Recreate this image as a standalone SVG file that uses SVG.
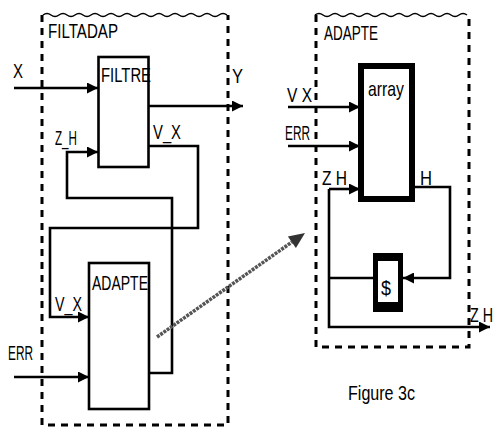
<svg xmlns="http://www.w3.org/2000/svg" width="499" height="431" viewBox="0 0 499 431">
<defs>
<marker id="ah" viewBox="0 0 10 10" refX="10" refY="5" markerWidth="11" markerHeight="11" markerUnits="userSpaceOnUse" orient="auto">
<path d="M0,0 L10,5 L0,10 z" fill="#000"/>
</marker>
</defs>
<style>
.t{font-family:"Liberation Sans",Arial,sans-serif;font-size:21px;fill:#000}
.w{fill:none;stroke:#000;stroke-width:2.6}
.dash{fill:none;stroke:#000;stroke-width:3;stroke-dasharray:7 6}
.wave{fill:none;stroke:#000;stroke-width:1.5}
.box{fill:#fff;stroke:#000;stroke-width:2.6}
</style>
<rect width="499" height="431" fill="#fff"/>

<g id="filtadap-frame">
<path class="wave" d="M43 15 q4 -3 8 0 t8 0 t8 0 t8 0 t8 0 t8 0 t8 0 t8 0 t8 0 t8 0 t8 0 t8 0 t8 0 t8 0 t8 0 t8 0 t8 0 t8 0 t8 0 t8 0 t8 0 t8 0 t8 0"/>
<path class="dash" d="M42 15 V425 H228 V15"/>
<text class="t" x="48" y="38" textLength="70" lengthAdjust="spacingAndGlyphs">FILTADAP</text>
</g>

<g id="adapte-frame">
<path class="wave" d="M315 15 q4 -3 8 0 t8 0 t8 0 t8 0 t8 0 t8 0 t8 0 t8 0 t8 0 t8 0 t8 0 t8 0 t8 0 t8 0 t8 0 t8 0 t8 0 t8 0 t8 0"/>
<path class="dash" d="M316 15 V347 H469 V15"/>
<text class="t" x="324" y="40" textLength="54" lengthAdjust="spacingAndGlyphs">ADAPTE</text>
</g>

<g id="filtre">
<rect class="box" x="98.5" y="57" width="50" height="110"/>
<text class="t" x="101" y="82" textLength="50" lengthAdjust="spacingAndGlyphs">FILTRE</text>
</g>

<g id="adapte-block">
<rect class="box" x="89" y="263" width="60" height="146"/>
<text class="t" x="92" y="290" textLength="56" lengthAdjust="spacingAndGlyphs">ADAPTE</text>
</g>

<g id="array">
<rect x="361" y="66" width="51" height="133" fill="#fff" stroke="#000" stroke-width="6"/>
<text class="t" x="368" y="96" textLength="36" lengthAdjust="spacingAndGlyphs">array</text>
</g>

<g id="delay">
<rect x="373" y="253" width="30" height="59" fill="#000"/>
<rect x="378" y="261" width="20" height="41" fill="#fff"/>
<text class="t" x="381" y="295" textLength="10" lengthAdjust="spacingAndGlyphs">$</text>
</g>

<g id="connectors">
<path class="w" d="M14 88 H98" marker-end="url(#ah)"/>
<path class="w" d="M149 106 H243" marker-end="url(#ah)"/>
<path class="w" d="M149 146 H198 V228 H50 V317 H89" marker-end="url(#ah)"/>
<path class="w" d="M149 373 H172 V198 H67 V152 H98" marker-end="url(#ah)"/>
<path class="w" d="M14 377 H89" marker-end="url(#ah)"/>
<path class="w" d="M288 107 H360" marker-end="url(#ah)"/>
<path class="w" d="M288 146 H360" marker-end="url(#ah)"/>
<path class="w" d="M329 189 H360" marker-end="url(#ah)"/>
<path class="w" d="M329 189 V327 H490" marker-end="url(#ah)"/>
<path class="w" d="M373 278 H329"/>
<path class="w" d="M415 187 H450 V278 H403" marker-end="url(#ah)"/>
<path d="M157 337 L292 242" fill="none" stroke="#555" stroke-width="3.5" stroke-dasharray="3 1"/>
<polygon points="305,233 295.9,247.9 287.9,236.5" fill="#333"/>
</g>

<g id="labels">
<text class="t" x="13" y="78" textLength="10" lengthAdjust="spacingAndGlyphs">X</text>
<text class="t" x="232" y="83" textLength="11" lengthAdjust="spacingAndGlyphs">Y</text>
<text class="t" x="153" y="139" textLength="28" lengthAdjust="spacingAndGlyphs">V_X</text>
<text class="t" x="55" y="145" textLength="22" lengthAdjust="spacingAndGlyphs">Z_H</text>
<text class="t" x="55" y="311" textLength="27" lengthAdjust="spacingAndGlyphs">V_X</text>
<text class="t" x="8" y="360" textLength="25" lengthAdjust="spacingAndGlyphs">ERR</text>
<text class="t" x="287" y="102" textLength="25" lengthAdjust="spacingAndGlyphs">V X</text>
<text class="t" x="285" y="140" textLength="25" lengthAdjust="spacingAndGlyphs">ERR</text>
<text class="t" x="322" y="185" textLength="25" lengthAdjust="spacingAndGlyphs">Z H</text>
<text class="t" x="420" y="185" textLength="12" lengthAdjust="spacingAndGlyphs">H</text>
<text class="t" transform="translate(470 322) scale(0.68 1)">Z H</text>
<text class="t" x="348" y="400" textLength="67" lengthAdjust="spacingAndGlyphs">Figure 3c</text>
</g>
</svg>
